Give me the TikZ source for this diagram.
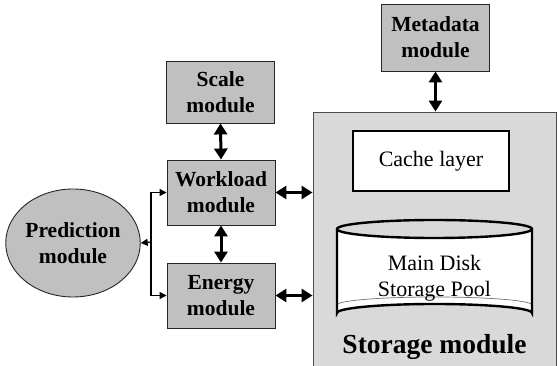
\documentclass[tikz,border=0pt]{standalone}
\usepackage{fontspec}
\setmainfont{Liberation Serif}
\usetikzlibrary{arrows.meta,shapes.geometric}
\definecolor{modgray}{HTML}{C0C0C0}
\definecolor{storegray}{HTML}{D9D9D9}
\tikzset{
  module/.style={draw=black!85, line width=0.9pt, fill=modgray, rectangle,
    minimum width=108pt, minimum height=64pt, inner sep=0pt, align=center,
    font=\fontsize{21.5}{26}\selectfont\bfseries},
  bigarrow/.style={line width=3pt, {Triangle[length=11pt,width=13pt]}-{Triangle[length=11pt,width=13pt]}},
  thinarrow/.style={line width=1.2pt, -{Triangle[length=7pt,width=7pt]}},
}
\begin{document}
\begin{tikzpicture}[x=1pt,y=-1pt]
\useasboundingbox (0,0) rectangle (558,366);

% storage container
\node[draw=black!70, line width=0.9pt, fill=storegray, rectangle, inner sep=0pt,
      minimum width=243pt, minimum height=270pt] (storage) at (434.5,247) {};
\node[font=\fontsize{27.5}{30}\selectfont\bfseries] (storlabel) at (434.5,347) {Storage module};

% cache layer
\node[draw=black, line width=2.4pt, fill=white, rectangle, inner sep=0pt,
      minimum width=156pt, minimum height=60pt,
      font=\fontsize{22}{26}\selectfont] (cache) at (431,161) {Cache layer};

% main disk pool drawn as a cylinder
\fill[white] (337,229) -- (337,313) arc[start angle=180,end angle=360,x radius=97.5,y radius=9]
  -- (532,229) arc[start angle=0,end angle=180,x radius=97.5,y radius=9] -- cycle;
\draw[black!55, line width=0.7pt] (337,305) arc[start angle=180,end angle=360,x radius=97.5,y radius=8];
\draw[line width=2.4pt] (337,229) -- (337,313) arc[start angle=180,end angle=360,x radius=97.5,y radius=9] -- (532,229);
\draw[line width=2.4pt] (434.5,229) ellipse[x radius=97.5,y radius=9];
\node[align=center, font=\fontsize{22}{26}\selectfont] (pool) at (434.5,278) {Main Disk\\Storage Pool};

% modules
\node[module, minimum height=67pt] (meta) at (435.5,37.5) {Metadata\\module};
\node[module, minimum height=62pt] (scale) at (220.5,92) {Scale\\module};
\node[module, minimum height=65pt] (work) at (221,192.5) {Workload\\module};
\node[module, minimum height=65pt] (energy) at (221,295.5) {Energy\\module};
\node[draw=black!85, line width=0.9pt, fill=modgray, ellipse, inner sep=0pt,
      minimum width=120pt, minimum height=108pt, align=center,
      font=\fontsize{21.5}{26}\selectfont\bfseries] (pred) at (73,243) {Prediction\\module};

% two-way links
\draw[bigarrow] (meta.south) -- (meta.south |- storage.north);
\draw[bigarrow] (scale.south) -- (work.north);
\draw[bigarrow] (work.south) -- (energy.north);
\draw[bigarrow] (work.east) -- (work.east -| storage.west);
\draw[bigarrow] (energy.east) -- (energy.east -| storage.west);

% prediction fan-out
\coordinate (hub) at (151,242);
\draw[thinarrow] (hub) -- (pred.east);
\draw[thinarrow] (hub) |- (work.west);
\draw[thinarrow] (hub) |- (energy.west);
\end{tikzpicture}
\end{document}
